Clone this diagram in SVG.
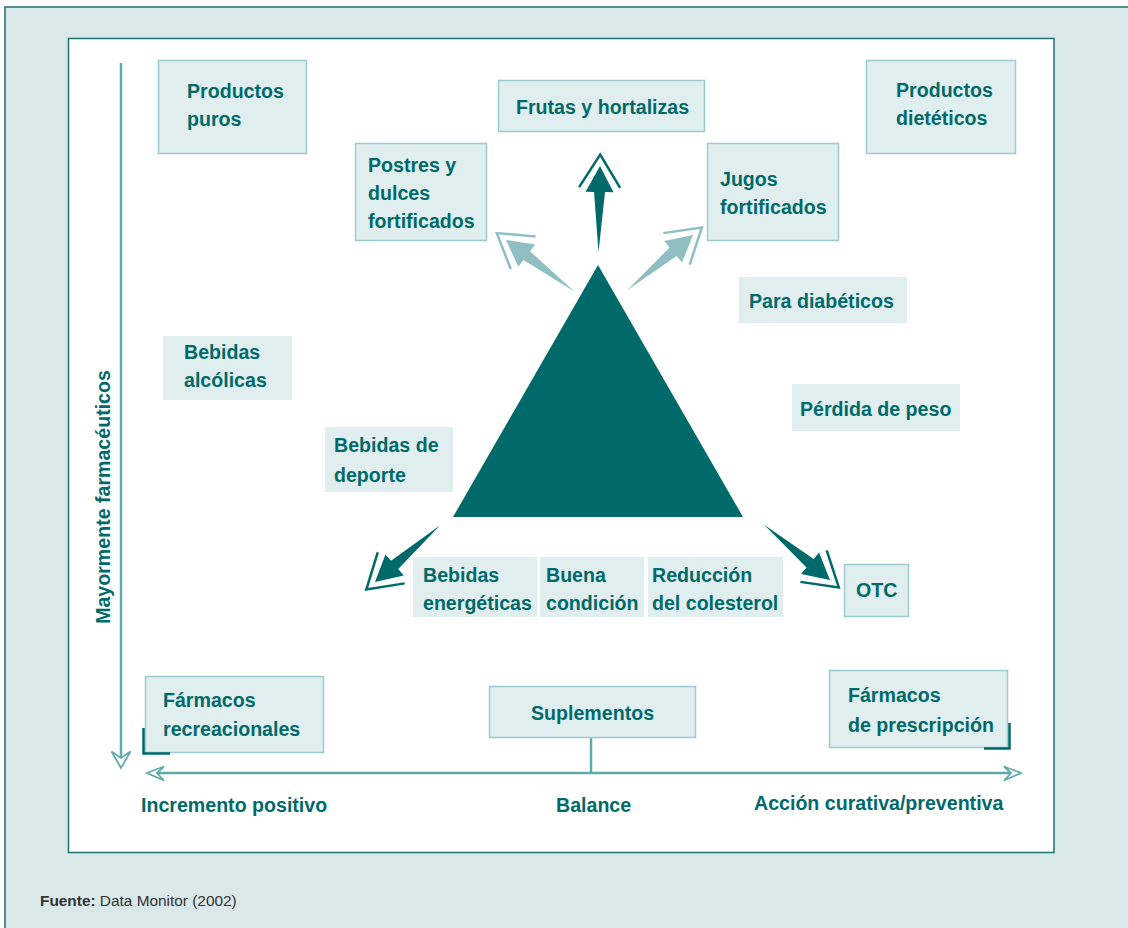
<svg xmlns="http://www.w3.org/2000/svg" width="1128" height="928" viewBox="0 0 1128 928">
<style>
.bg{fill:#d9e8e8;stroke:#1f7070;stroke-width:1.5}
.panel{fill:#ffffff;stroke:#1f7070;stroke-width:1.5}
.box{fill:#e1eef0;stroke:#9ccacd;stroke-width:1.5}
.fill{fill:#e1eef0;stroke:none}
.t{font-family:"Liberation Sans",Arial,sans-serif;font-weight:bold;font-size:19.6px;fill:#006a6a}
.axis{stroke:#62a9ad;stroke-width:2.5;fill:none}
.ahead{fill:#ffffff;stroke:#62a9ad;stroke-width:1.8;stroke-linejoin:miter}
.corner{stroke:#006a6a;stroke-width:2.5;fill:none}
.dark{fill:#006a6a}
.light{fill:#8fbfc2}
.chevd{fill:none;stroke:#006a6a;stroke-width:2.5}
.chevl{fill:none;stroke:#8fbfc2;stroke-width:2.5}
.foot{font-family:"Liberation Sans",Arial,sans-serif;font-size:15.4px;fill:#333333}
</style>
<defs>
<g id="arrowDark">
<polygon class="dark" points="0,0 14,26 5.5,26 0,86 -5.5,26 -14,26"/>
<polyline class="chevd" points="-20.5,21.5 0,-11.5 20.5,21.5"/>
</g>
<g id="arrowLight">
<polygon class="light" points="0,0 14,26 5.5,26 0,86 -5.5,26 -14,26"/>
<polyline class="chevl" points="-20.5,21.5 0,-11.5 20.5,21.5"/>
</g>
</defs>
<rect class="bg" x="5" y="7" width="1130" height="930"/>
<rect class="panel" x="68.5" y="38.5" width="985.5" height="814"/>

<g id="connectors">
<line class="axis" x1="121" y1="63" x2="121" y2="760"/>
<polygon class="ahead" points="111.5,751.5 121,768 130.5,751.5 121,758"/>
<line class="axis" x1="154" y1="773" x2="1014" y2="773"/>
<polygon class="ahead" points="164,766.5 147,773 164,780.5 157,773"/>
<polygon class="ahead" points="1004,766.5 1021,773 1004,780.5 1011,773"/>
<line class="axis" x1="591" y1="738" x2="591" y2="773"/>
<use href="#arrowDark" transform="translate(600,166) rotate(1)"/>
<use href="#arrowLight" transform="translate(506,240) rotate(-53)"/>
<use href="#arrowLight" transform="translate(693,235) rotate(50)"/>
<use href="#arrowDark" transform="translate(375,582) rotate(-131)"/>
<use href="#arrowDark" transform="translate(830,580) rotate(130)"/>
</g>

<g id="triangle"><polygon class="dark" points="598,265 453,517 743,517"/></g>

<g id="productos-puros"><rect class="box" x="158.5" y="60.5" width="148" height="93"/>
<text class="t" x="187" y="98">Productos</text><text class="t" x="187" y="126">puros</text></g>

<g id="frutas"><rect class="box" x="498.5" y="80.5" width="206" height="51"/>
<text class="t" x="516" y="114">Frutas y hortalizas</text></g>

<g id="productos-dieteticos"><rect class="box" x="866.5" y="60.5" width="149" height="93"/>
<text class="t" x="896" y="97">Productos</text><text class="t" x="896" y="125">dietéticos</text></g>

<g id="postres"><rect class="box" x="355.5" y="143.5" width="131" height="97"/>
<text class="t" x="368" y="172">Postres y</text><text class="t" x="368" y="200">dulces</text><text class="t" x="368" y="228">fortificados</text></g>

<g id="jugos"><rect class="box" x="707.5" y="143.5" width="131" height="97"/>
<text class="t" x="720" y="186">Jugos</text><text class="t" x="720" y="214">fortificados</text></g>

<g id="para-diabeticos"><rect class="fill" x="739" y="277" width="168" height="46"/>
<text class="t" x="749" y="308">Para diabéticos</text></g>

<g id="bebidas-alcolicas"><rect class="fill" x="163" y="336" width="129" height="64"/>
<text class="t" x="184" y="359">Bebidas</text><text class="t" x="184" y="387">alcólicas</text></g>

<g id="perdida-peso"><rect class="fill" x="792" y="384" width="168" height="47"/>
<text class="t" x="800" y="416">Pérdida de peso</text></g>

<g id="bebidas-deporte"><rect class="fill" x="325" y="427" width="128" height="65"/>
<text class="t" x="334" y="452">Bebidas de</text><text class="t" x="334" y="482">deporte</text></g>

<g id="bebidas-energeticas"><rect class="fill" x="413" y="557" width="124" height="60"/>
<text class="t" x="423" y="582">Bebidas</text><text class="t" x="423" y="610">energéticas</text></g>

<g id="buena-condicion"><rect class="fill" x="540" y="557" width="104" height="60"/>
<text class="t" x="546" y="582">Buena</text><text class="t" x="546" y="610">condición</text></g>

<g id="reduccion"><rect class="fill" x="648" y="557" width="135" height="60"/>
<text class="t" x="652" y="582">Reducción</text><text class="t" x="652" y="610">del colesterol</text></g>

<g id="otc"><rect class="box" x="844.5" y="564.5" width="64" height="52"/>
<text class="t" x="856" y="597">OTC</text></g>

<g id="farmacos-recreacionales"><rect class="box" x="145.5" y="676.5" width="178" height="76"/>
<polyline class="corner" points="143.5,728 143.5,753.5 170,753.5"/>
<text class="t" x="163" y="707">Fármacos</text><text class="t" x="163" y="736">recreacionales</text></g>

<g id="suplementos"><rect class="box" x="489.5" y="686.5" width="206" height="51"/>
<text class="t" x="531" y="720">Suplementos</text></g>

<g id="farmacos-prescripcion"><rect class="box" x="829.5" y="670.5" width="178" height="77"/>
<polyline class="corner" points="1009.5,723 1009.5,748.5 984,748.5"/>
<text class="t" x="848" y="702">Fármacos</text><text class="t" x="848" y="732">de prescripción</text></g>

<g id="labels">
<text class="t" x="141" y="812">Incremento positivo</text>
<text class="t" x="556" y="812">Balance</text>
<text class="t" x="754" y="810">Acción curativa/preventiva</text>
<text class="t" transform="translate(110,497) rotate(-90)" text-anchor="middle">Mayormente farmacéuticos</text>
</g>

<text class="foot" x="40" y="906"><tspan font-weight="bold">Fuente:</tspan> Data Monitor (2002)</text>
</svg>
